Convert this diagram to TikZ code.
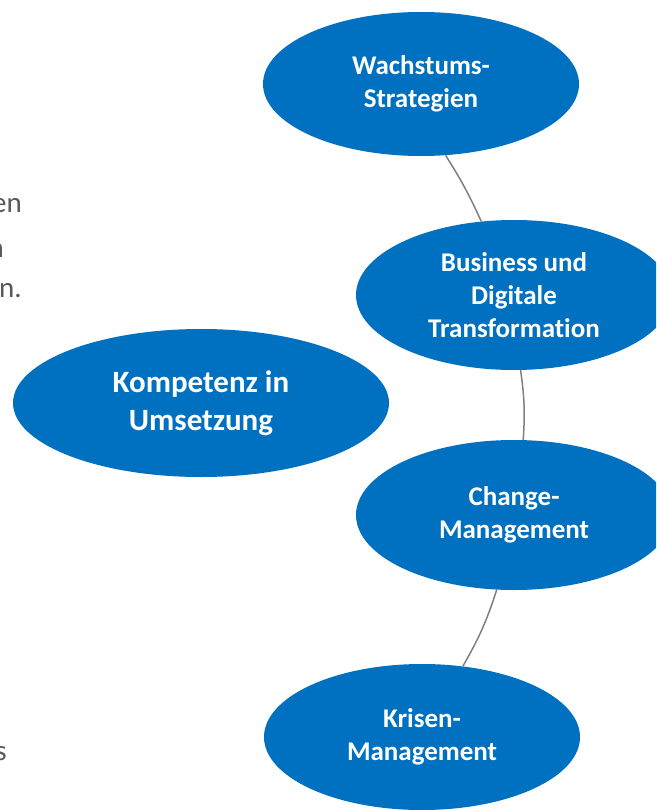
\documentclass[tikz,border=0pt]{standalone}
\usepackage{fontspec}
\setmainfont{Carlito}[Ligatures=NoCommon]
\usetikzlibrary{shapes.geometric}
\definecolor{bubble}{RGB}{0,112,192}
\definecolor{link}{RGB}{128,128,128}
\definecolor{bodytext}{RGB}{89,89,89}
\tikzset{
  bubble/.style={ellipse, fill=bubble, draw=none, inner sep=0pt, align=center,
    text=white, font=\fontsize{27}{33}\selectfont\bfseries},
  bigbubble/.style={bubble, font=\fontsize{31}{38}\selectfont\bfseries},
  linkline/.style={draw=link, line width=1.5pt},
  edgetext/.style={text=bodytext, font=\fontsize{29}{35}\selectfont, inner sep=0pt, anchor=base east}
}
\begin{document}
\begin{tikzpicture}[x=1pt, y=-1pt]
  \useasboundingbox (0,0) rectangle (656,810);
  \clip (0,0) rectangle (656,810);
  \fill[white] (0,0) rectangle (656,810);

  % running text of the neighbouring column, cut at the left margin
  \node[edgetext] (t1) at (22,213) {en};
  \node[edgetext] (t2) at (4,257) {n};
  \node[edgetext] (t3) at (22,297) {n.};
  \node[edgetext] (t4) at (7,760) {s};

  % topic bubbles
  \node[bubble, minimum width=316pt, minimum height=144pt] (w) at (421,84) {Wachstums-\\Strategien};
  \node[bubble, minimum width=316pt, minimum height=150pt] (b) at (514,295) {Business und\\Digitale\\Transformation};
  \node[bigbubble, minimum width=376pt, minimum height=148pt] (k) at (201,403) {Kompetenz in\\Umsetzung};
  \node[bubble, minimum width=316pt, minimum height=150pt] (c) at (514,515) {Change-\\Management};
  \node[bubble, minimum width=316pt, minimum height=146pt] (r) at (422,737) {Krisen-\\Management};

  % connecting arcs
  \draw[linkline] (w.-71) to[bend left=4] (b.114);
  \draw[linkline] (b.-85) to[bend left=6] (c.83);
  \draw[linkline] (c.-103) to[bend left=6] (r.60);
\end{tikzpicture}
\end{document}
